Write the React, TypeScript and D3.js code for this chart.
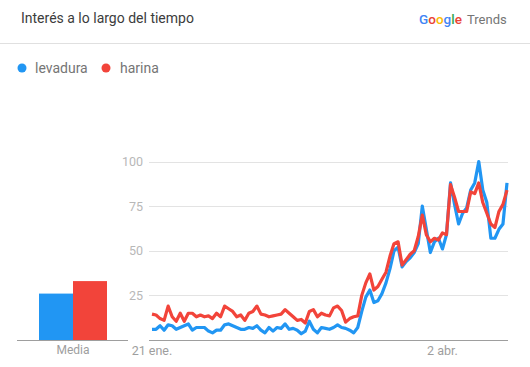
import React from "react";
import * as d3 from "d3";

const seriesNames = ["levadura", "harina"];
const seriesColors = ["#2196f3", "#f2443a"];

const levadura = [
  6, 6, 8, 5.5, 8.5, 8, 6, 7, 8, 9, 5.5, 7, 7, 7, 5, 4, 5.5, 5.5, 8.5, 9, 8, 7, 6, 6, 7,
  6.5, 8, 5.5, 4, 7, 5, 7, 6.5, 9, 6, 6.5, 5.5, 3.5, 5, 10.5, 6, 4, 7, 6.5, 6, 7, 8.5, 7,
  6.5, 5.5, 4, 7, 16, 24, 28, 21, 22, 26, 32, 40, 50, 52, 41, 44, 46, 49, 54, 75, 62, 49,
  55, 57, 51, 59, 88, 76, 65, 71, 74, 84, 88, 100, 84, 77, 57, 57, 62, 65, 88,
];
const harina = [
  14.5, 14, 12, 11, 19, 13, 10.5, 15, 10.5, 15, 15, 13, 14, 13, 13.5, 12, 15, 13, 19, 17.5,
  16, 13, 14, 11, 15, 16, 19, 14.5, 14, 13, 13.5, 14, 14.5, 17, 15, 13, 11, 11.5, 9.5, 16,
  17, 13, 15, 14, 13.5, 18, 19, 16.5, 10, 12, 13, 13.5, 25, 32, 37, 28, 30, 34, 38, 47, 54,
  55, 42, 45, 48, 50, 58, 70, 59, 55, 57, 56, 60, 59, 87, 80, 72, 72, 72, 83, 82, 88, 77,
  71, 65, 63, 72, 76, 84,
];
const averages = [26, 33];
const yTicks = [25, 50, 75, 100];
const xTickDates = [new Date(2020, 0, 21), new Date(2020, 3, 2)];
const xTickLabels = ["21 ene.", "2 abr."];
const startDate = new Date(2020, 0, 21);

const dates = d3.timeDay.range(startDate, d3.timeDay.offset(startDate, levadura.length));

const W = 530;
const H = 367;

export default function App() {
  const x = d3
    .scaleTime()
    .domain([dates[0], dates[dates.length - 1]])
    .range([152, 507]);
  const y = d3.scaleLinear().domain([0, 100]).range([340, 161.5]);
  const xb = d3.scaleBand<string>().domain(seriesNames).range([39, 107]).padding(0);

  const line = d3
    .line<number>()
    .x((_, i) => x(dates[i]))
    .y((d) => y(d))
    .curve(d3.curveLinear);

  const font = "Roboto, 'Noto Sans', sans-serif";
  const googleLetters = [
    ["G", "#4285F4"],
    ["o", "#EA4335"],
    ["o", "#FBBC05"],
    ["g", "#4285F4"],
    ["l", "#34A853"],
    ["e", "#EA4335"],
  ];

  return (
    <svg
      width={W}
      height={H}
      style={{ position: "absolute", left: 0, top: 0, background: "#fff" }}
      fontFamily={font}
    >
      <rect x={0} y={0} width={W} height={H} fill="#fff" />
      <text x={21} y={23} fontSize={14} fill="#3c3c3c">
        Interés a lo largo del tiempo
      </text>
      <text x={419} y={24} fontSize={13.5} fontFamily={font} fontWeight={500}>
        {googleLetters.map(([ch, c], i) => (
          <tspan key={i} fill={c}>
            {ch}
          </tspan>
        ))}
      </text>
      <text x={467} y={24} fontSize={13} fill="#757575" fontFamily={font}>
        Trends
      </text>
      <line x1={0} x2={W} y1={43.5} y2={43.5} stroke="#e0e0e0" strokeWidth={1} />

      {/* legend */}
      <circle cx={22} cy={68} r={4.5} fill={seriesColors[0]} />
      <text x={35} y={73} fontSize={14} fill="#757575">
        {seriesNames[0]}
      </text>
      <circle cx={106} cy={68} r={4.5} fill={seriesColors[1]} />
      <text x={120} y={73} fontSize={14} fill="#757575">
        {seriesNames[1]}
      </text>

      {/* average bars */}
      {averages.map((v, i) => (
        <rect
          key={i}
          x={xb(seriesNames[i])}
          y={y(v)}
          width={xb.bandwidth()}
          height={y(0) - y(v)}
          fill={seriesColors[i]}
        />
      ))}
      <line x1={17} x2={128} y1={340.5} y2={340.5} stroke="#9e9e9e" strokeWidth={1} />
      <text x={73} y={354} fontSize={12} fill="#9e9e9e" textAnchor="middle">
        Media
      </text>

      {/* grid */}
      {yTicks.map((t) => (
        <g key={t}>
          <line x1={149} x2={508} y1={Math.round(y(t)) + 0.5} y2={Math.round(y(t)) + 0.5} stroke="#e3e3e3" />
          <text x={143} y={y(t) + 4.5} fontSize={12.5} fill="#b8b8b8" textAnchor="end">
            {t}
          </text>
        </g>
      ))}
      <line x1={149} x2={508} y1={340.5} y2={340.5} stroke="#9e9e9e" strokeWidth={1} />
      {xTickDates.map((d, i) => (
        <text key={i} x={x(d)} y={355} fontSize={12.5} fill="#9e9e9e" textAnchor="middle">
          {xTickLabels[i]}
        </text>
      ))}

      {/* lines */}
      <path d={line(levadura) || ""} fill="none" stroke={seriesColors[0]} strokeWidth={3.2} strokeLinejoin="round" />
      <path d={line(harina) || ""} fill="none" stroke={seriesColors[1]} strokeWidth={3.2} strokeLinejoin="round" />
    </svg>
  );
}
